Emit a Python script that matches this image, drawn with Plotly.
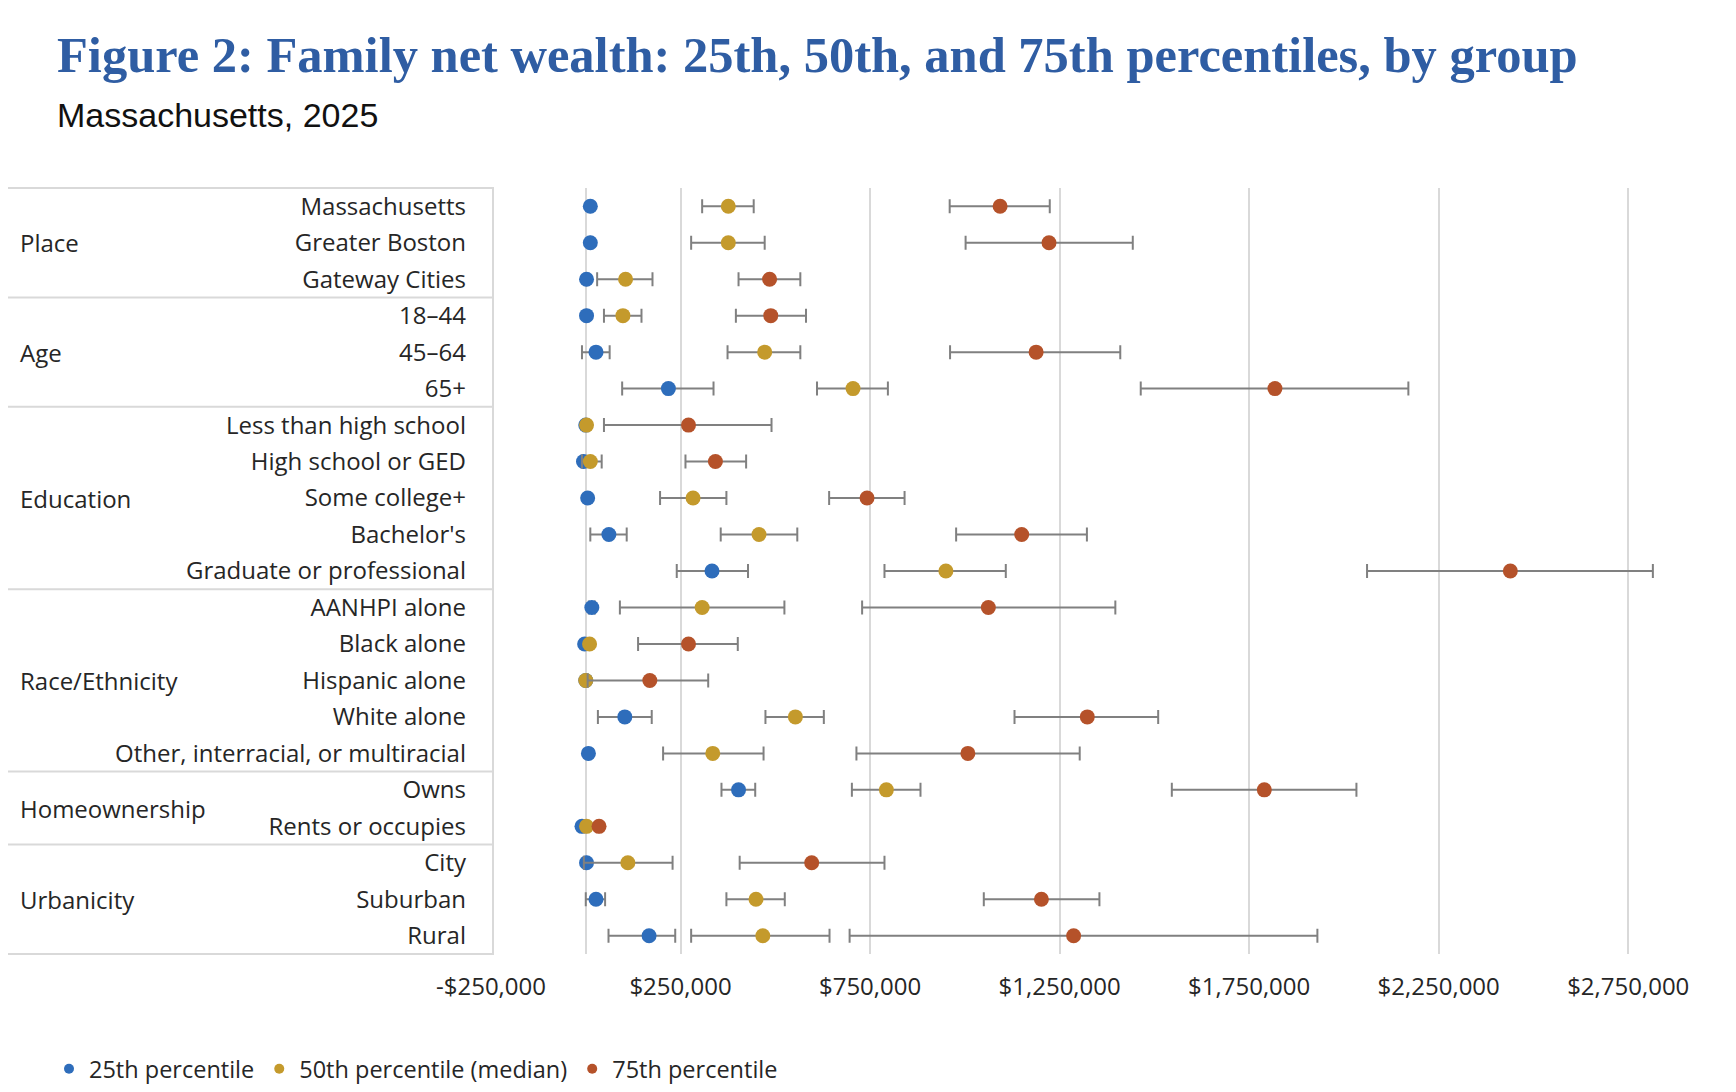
import plotly.graph_objects as go

# rows, top to bottom
ROWS = [
    "Massachusetts", "Greater Boston", "Gateway Cities",
    "18–44", "45–64", "65+",
    "Less than high school", "High school or GED", "Some college+", "Bachelor's",
    "Graduate or professional",
    "AANHPI alone", "Black alone", "Hispanic alone", "White alone",
    "Other, interracial, or multiracial",
    "Owns", "Rents or occupies",
    "City", "Suburban", "Rural",
]
GROUPS = ["Place", "Age", "Education", "Race/Ethnicity", "Homeownership", "Urbanicity"]
GROUP_ROW = [1, 4, 8, 13, 16.5, 19]      # row the group label sits beside
GROUP_BREAKS = [2.5, 5.5, 10.5, 15.5, 17.5]

# 25th percentile (value, low, high); None = no interval shown
P25 = [12000, 12000, 2000, 2000, 27000, 218000, 0, -6000, 5000, 61000, 333000,
       16000, -3000, 0, 103000, 7000, 403000, -10000, 2000, 27000, 167000]
P25_LO = [None, None, None, None, -10000, 96000, None, None, None, 12000, 240000,
          8000, None, None, 32000, None, 358000, None, None, 0, 60000]
P25_HI = [None, None, None, None, 63000, 337000, None, None, None, 108000, 428000,
          24000, None, None, 174000, None, 447000, None, None, 51000, 236000]

# 50th percentile (median)
P50 = [376000, 376000, 105000, 98000, 472000, 705000, 2000, 12000, 283000, 457000, 950000,
       307000, 10000, 0, 553000, 335000, 793000, 2000, 111000, 449000, 467000]
P50_LO = [307000, 278000, 30000, 48000, 374000, 610000, None, -10000, 196000, 356000, 788000,
          90000, None, None, 474000, 204000, 702000, None, -5000, 371000, 278000]
P50_HI = [443000, 472000, 176000, 147000, 566000, 797000, None, 42000, 371000, 558000, 1108000,
          524000, None, None, 628000, 469000, 883000, None, 229000, 525000, 643000]

# 75th percentile
P75 = [1093000, 1222000, 485000, 488000, 1188000, 1818000, 271000, 342000, 742000, 1150000, 2439000,
       1062000, 271000, 169000, 1323000, 1008000, 1790000, 35000, 596000, 1202000, 1287000]
P75_LO = [960000, 1002000, 403000, 396000, 961000, 1464000, 48000, 263000, 642000, 977000, 2061000,
          729000, 138000, 5000, 1131000, 714000, 1546000, None, 406000, 1050000, 696000]
P75_HI = [1224000, 1443000, 566000, 581000, 1410000, 2170000, 490000, 423000, 841000, 1322000, 2815000,
          1397000, 401000, 323000, 1510000, 1303000, 2033000, None, 788000, 1355000, 1930000]

TICK_VALS = [-250000, 250000, 750000, 1250000, 1750000, 2250000, 2750000]
TICK_LABELS = ["-$250,000", "$250,000", "$750,000", "$1,250,000", "$1,750,000", "$2,250,000", "$2,750,000"]

SERIES = [
    ("25th percentile", P25, P25_LO, P25_HI, "#2E6DBB"),
    ("50th percentile (median)", P50, P50_LO, P50_HI, "#C49A2C"),
    ("75th percentile", P75, P75_LO, P75_HI, "#B5522A"),
]

# page body has an 8px margin, so the figure is a bit smaller than the window
OFF = 8
W, H = 1736 - 2 * OFF, 1092 - 2 * OFF
L, T = 491 - OFF, 188 - OFF
PW, PH = 1232, 766
R, B = W - L - PW, H - T - PH
FONT = "Open Sans"
TXT = "#262626"
GRID = "#d9d9d9"


def px_x(px):
    # screen px -> paper x
    return (px - OFF - L) / PW


def px_y(py):
    # screen px -> paper y
    return (T + PH - (py - OFF)) / PH


def row_y(r):
    return (20.5 - r) / 21


ypos = list(range(len(ROWS)))

fig = go.Figure()
for name, vals, lo, hi, color in SERIES:
    plus = [h - v if h is not None else None for v, h in zip(vals, hi)]
    minus = [v - l if l is not None else None for v, l in zip(vals, lo)]
    fig.add_trace(go.Scatter(
        x=vals, y=ypos, mode="markers", name=name, showlegend=False,
        marker=dict(size=15, color=color),
        error_x=dict(type="data", symmetric=False, array=plus, arrayminus=minus,
                     color="#808080", thickness=2, width=7),
    ))
# legend entries with small dots
for name, vals, lo, hi, color in SERIES:
    fig.add_trace(go.Scatter(x=[None], y=[None], mode="markers", name=name,
                             marker=dict(size=10, color=color)))

shapes = [dict(type="rect", xref="paper", yref="paper", x0=px_x(-5), x1=px_x(493),
               y0=0, y1=1, line=dict(color=GRID, width=2))]
for b in GROUP_BREAKS:
    shapes.append(dict(type="line", xref="paper", yref="paper", x0=px_x(-5), x1=px_x(493),
                       y0=row_y(b), y1=row_y(b), line=dict(color=GRID, width=2)))

annotations = [
    dict(text="Figure 2: Family net wealth: 25th, 50th, and 75th percentiles, by group",
         xref="paper", yref="paper", x=px_x(55), y=px_y(55), xanchor="left", yanchor="middle",
         showarrow=False, font=dict(family="Liberation Serif", size=50.5, color="#2F5DA3",
                                    weight="bold")),
    dict(text="Massachusetts, 2025", xref="paper", yref="paper", x=px_x(55), y=px_y(115),
         xanchor="left", yanchor="middle", showarrow=False,
         font=dict(family="Liberation Sans", size=34, color="#111111")),
]
for g, r in zip(GROUPS, GROUP_ROW):
    annotations.append(dict(text=g, xref="paper", yref="paper", x=px_x(18), y=row_y(r),
                            xanchor="left", yanchor="middle", showarrow=False,
                            font=dict(family=FONT, size=24, color=TXT)))

fig.update_layout(
    width=W, height=H,
    margin=dict(l=L, r=R, t=T, b=B),
    paper_bgcolor="white", plot_bgcolor="white",
    font=dict(family=FONT, size=24, color=TXT),
    xaxis=dict(range=[-250000, 3000000], tickvals=TICK_VALS, ticktext=TICK_LABELS,
               showgrid=True, gridcolor=GRID, gridwidth=1.5,
               zeroline=True, zerolinecolor=GRID, zerolinewidth=1.5,
               showline=False, ticks="", ticklabelstandoff=16,
               tickfont=dict(family=FONT, size=24, color=TXT)),
    yaxis=dict(range=[20.5, -0.5], tickvals=ypos, ticktext=ROWS,
               showgrid=False, zeroline=False, showline=False, ticks="",
               ticklabelstandoff=24, tickfont=dict(family=FONT, size=24, color=TXT)),
    legend=dict(orientation="h", xref="container", yref="container",
                x=(49 - OFF) / W, y=(H - (1069 - OFF)) / H,
                xanchor="left", yanchor="middle", font=dict(family=FONT, size=23.5, color=TXT),
                itemwidth=30, tracegroupgap=0),
    shapes=shapes,
    annotations=annotations,
    showlegend=True,
)

fig.write_html("out.html")
